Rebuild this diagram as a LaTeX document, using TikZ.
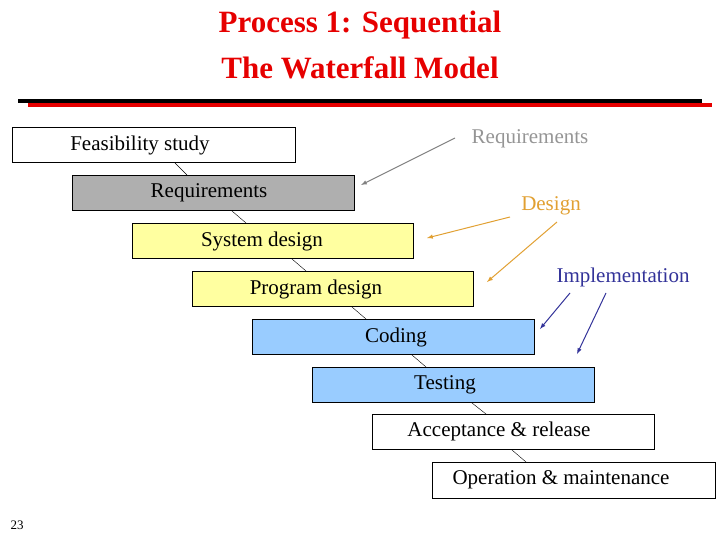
\documentclass[tikz,border=0pt]{standalone}
\usepackage{fontspec}
\setmainfont{Liberation Serif}
\begin{document}
\begin{tikzpicture}[x=1pt,y=-1pt,
 box/.style={draw=black,line width=0.6pt},
 btxt/.style={font=\fontsize{21}{24}\selectfont,anchor=center},
 conn/.style={draw=black,line width=0.4pt},
 arr/.style={->,>=latex,line width=1pt}]
\useasboundingbox (0,0) rectangle (720,540);
\definecolor{ttl}{RGB}{230,0,0}
\definecolor{gry}{RGB}{175,175,175}
\definecolor{yel}{RGB}{255,255,160}
\definecolor{blu}{RGB}{153,204,255}
\definecolor{org}{RGB}{225,160,50}
\definecolor{imp}{RGB}{51,51,153}
\node[text=ttl,font=\bfseries\fontsize{31}{34}\selectfont] (t1) at (360,25) {Process 1: Sequential};
\node[text=ttl,font=\bfseries\fontsize{31}{34}\selectfont] (t2) at (360,68) {The Waterfall Model};
\fill[black] (18,99) rectangle (702,103);
\fill[ttl] (28,103) rectangle (712,107);
% boxes
\filldraw[box,fill=white] (12,127) rectangle (295,162);
\filldraw[box,fill=gry] (72,175) rectangle (354,210);
\filldraw[box,fill=yel] (132,223) rectangle (413,258);
\filldraw[box,fill=yel] (192,271) rectangle (473,306);
\filldraw[box,fill=blu] (252,319) rectangle (534,354);
\filldraw[box,fill=blu] (312,367) rectangle (594,402);
\filldraw[box,fill=white] (372,414) rectangle (654,449);
\filldraw[box,fill=white] (432,462) rectangle (715,498);
\node[btxt] (b1) at (140,145) {Feasibility study};
\node[btxt] (b2) at (209,193) {Requirements};
\node[btxt] (b3) at (262,241) {System design};
\node[btxt] (b4) at (316,289) {Program design};
\node[btxt] (b5) at (396,337) {Coding};
\node[btxt] (b6) at (445,385) {Testing};
\node[btxt] (b7) at (499,431) {Acceptance \& release};
\node[btxt] (b8) at (561,480) {Operation \& maintenance};
\coordinate (c1a) at (175,163); \coordinate (c1b) at (187,175);
\coordinate (c2a) at (232,211); \coordinate (c2b) at (246,223);
\coordinate (c3a) at (292,259); \coordinate (c3b) at (306,271);
\coordinate (c4a) at (352,307); \coordinate (c4b) at (366,319);
\coordinate (c5a) at (412,355); \coordinate (c5b) at (426,367);
\coordinate (c6a) at (472,403); \coordinate (c6b) at (486,414);
\coordinate (c7a) at (512,450); \coordinate (c7b) at (526,462);
\foreach \i in {1,...,7} \draw[conn] (c\i a) -- (c\i b);
% side labels
\node[text=gry!85!black,btxt] (lr) at (530,139) {Requirements};
\node[text=org,btxt] (ld) at (551,206) {Design};
\node[text=imp,btxt] (li) at (623,277) {Implementation};
\coordinate (ar1) at (361,185);
\coordinate (ad1) at (427,238);
\coordinate (ad2) at (487,282);
\coordinate (ai1) at (540,329);
\coordinate (ai2) at (577,354);
\draw[arr,gray] (455,138) -- (ar1);
\draw[arr,org] (510,217) -- (ad1);
\draw[arr,org] (557,222) -- (ad2);
\draw[arr,imp] (570,293) -- (ai1);
\draw[arr,imp] (606,293) -- (ai2);
\node[font=\fontsize{13}{15}\selectfont] (pg) at (17,525) {23};
\end{tikzpicture}
\end{document}
